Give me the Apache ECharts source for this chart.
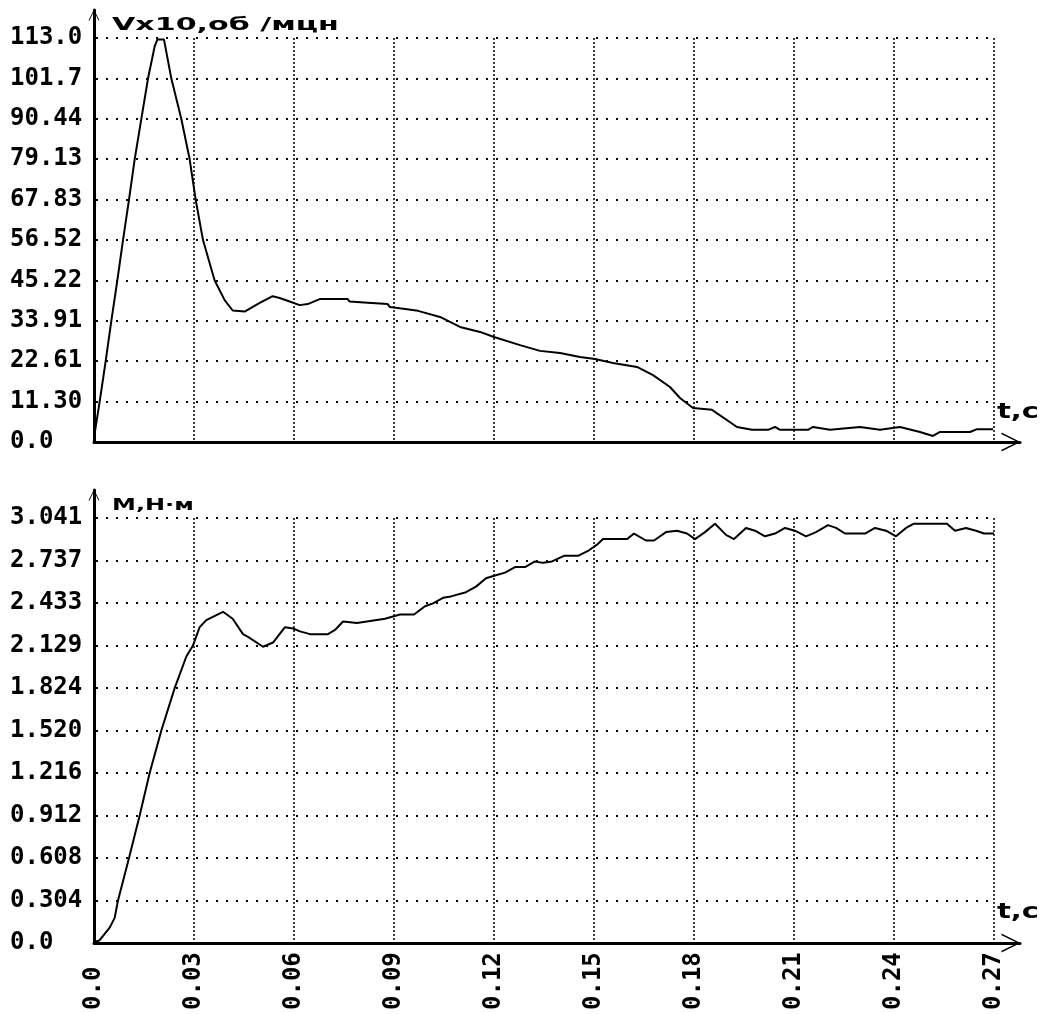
<!DOCTYPE html>
<html>
<head>
<meta charset="utf-8">
<script src="https://cdn.jsdelivr.net/npm/echarts@6/dist/echarts.min.js"></script>
<style>
  html, body { margin: 0; padding: 0; background: #fff; }
  #chart { width: 1042px; height: 1014px; }
</style>
</head>
<body>
<div id="chart"></div>
<script>
// Tick labels as printed on the axes
const timeTicks = ['0.0', '0.03', '0.06', '0.09', '0.12', '0.15', '0.18', '0.21', '0.24', '0.27'];
const speedTicks = ['0.0', '11.30', '22.61', '33.91', '45.22', '56.52', '67.83', '79.13', '90.44', '101.7', '113.0'];
const torqueTicks = ['0.0', '0.304', '0.608', '0.912', '1.216', '1.520', '1.824', '2.129', '2.433', '2.737', '3.041'];

const timeStep = 0.03;
const speedStep = 11.305;
const torqueStep = 0.3041;

// Speed V x10, rpm versus time t, s
const speedTime = [
  0.0003, 0.0017, 0.0035, 0.0052, 0.0070, 0.0087, 0.0105, 0.0122, 0.0142, 0.0162,
  0.0182, 0.0190, 0.0210, 0.0232, 0.0262, 0.0287, 0.0305, 0.0327, 0.0362, 0.0392,
  0.0416, 0.0452, 0.0497, 0.0536, 0.0557, 0.0587, 0.0617, 0.0641, 0.0677, 0.0761,
  0.0767, 0.0821, 0.0827, 0.0881, 0.0887, 0.0917, 0.0972, 0.1038, 0.1098, 0.1158,
  0.1200, 0.1278, 0.1338, 0.1398, 0.1458, 0.1503, 0.1557, 0.1629, 0.1677, 0.1728,
  0.1758, 0.1797, 0.1854, 0.1929, 0.1974, 0.2022, 0.2043, 0.2058, 0.2142, 0.2157,
  0.2208, 0.2298, 0.2358, 0.2418, 0.2478, 0.2517, 0.2538, 0.2628, 0.2649, 0.2697
];
const speedValues = [
  3, 11.3, 22.6, 33.9, 45.2, 56.5, 67.8, 79.1, 90.4, 101.7,
  110.7, 112.6, 112.6, 101.7, 90.4, 79.1, 67.8, 56.5, 45.2, 39.7,
  36.8, 36.5, 38.9, 40.8, 40.3, 39.3, 38.3, 38.6, 40, 40,
  39.3, 39, 38.6, 38.6, 37.8, 37.4, 36.7, 35, 32.2, 30.8,
  29.4, 27.1, 25.5, 24.9, 23.8, 23.2, 22.1, 21, 18.7, 15.4,
  12.3, 9.5, 9, 4.2, 3.4, 3.4, 4.2, 3.4, 3.4, 4.2,
  3.4, 4.2, 3.4, 4.2, 2.8, 1.7, 2.8, 2.8, 3.6, 3.6
];

// Torque M, N·m versus time t, s
const torqueTime = [
  0, 0.0017, 0.0047, 0.0062, 0.0072, 0.0105, 0.0137, 0.0167, 0.0202, 0.0242,
  0.0277, 0.0297, 0.0317, 0.0337, 0.0387, 0.0416, 0.0447, 0.0462, 0.0507, 0.0537,
  0.0573, 0.0597, 0.0618, 0.0648, 0.0702, 0.0723, 0.0747, 0.0789, 0.0873, 0.0918,
  0.0960, 0.0993, 0.1017, 0.1047, 0.1071, 0.1116, 0.1146, 0.1176, 0.1203, 0.1233,
  0.1263, 0.1293, 0.1323, 0.1347, 0.1374, 0.1410, 0.1452, 0.1485, 0.1509, 0.1527,
  0.1599, 0.1620, 0.1656, 0.1680, 0.1716, 0.1749, 0.1779, 0.1803, 0.1833, 0.1863,
  0.1896, 0.1920, 0.1956, 0.1983, 0.2013, 0.2043, 0.2073, 0.2103, 0.2136, 0.2166,
  0.2202, 0.2226, 0.2253, 0.2283, 0.2313, 0.2343, 0.2376, 0.2406, 0.2436, 0.2460,
  0.2559, 0.2583, 0.2616, 0.2646, 0.2670, 0.2700
];
const torqueValues = [
  0.005, 0.02, 0.11, 0.18, 0.304, 0.608, 0.912, 1.216, 1.52, 1.824,
  2.05, 2.129, 2.26, 2.31, 2.37, 2.32, 2.21, 2.19, 2.12, 2.15,
  2.26, 2.25, 2.23, 2.21, 2.21, 2.24, 2.30, 2.29, 2.32, 2.35,
  2.35, 2.41, 2.43, 2.47, 2.48, 2.51, 2.55, 2.61, 2.63, 2.65,
  2.69, 2.69, 2.73, 2.72, 2.73, 2.77, 2.77, 2.81, 2.85, 2.89,
  2.89, 2.93, 2.88, 2.88, 2.94, 2.95, 2.93, 2.89, 2.94, 3.00,
  2.92, 2.89, 2.97, 2.95, 2.91, 2.93, 2.97, 2.95, 2.91, 2.94,
  2.99, 2.97, 2.93, 2.93, 2.93, 2.97, 2.95, 2.91, 2.97, 3.00,
  3.00, 2.95, 2.97, 2.95, 2.93, 2.93
];

const zip = (xs, ys) => xs.map((x, i) => [x, ys[i]]);

const INK = '#000';
const labelFont = {
  fontFamily: 'DejaVu Sans Mono',
  fontWeight: 'bold',
  fontSize: 24,
  color: INK
};
// open chevron head for the axis ends (points up in its own frame)
const chevron = 'path://M0,100 L50,0 L100,100 L91,100 L50,16 L9,100 Z';

const hGrid = { show: true, showMinLine: false, lineStyle: { color: INK, width: 2, type: [2, 8], dashOffset: 8 } };
const vGrid = { show: true, showMinLine: false, lineStyle: { color: INK, width: 1.5, type: [2, 2] } };

function plotX(gridIndex, withLabels) {
  return {
    type: 'value', gridIndex, min: 0, max: 0.27, interval: timeStep,
    axisLine: { show: false }, axisTick: { show: false },
    splitLine: vGrid,
    axisLabel: withLabels ? Object.assign({
      rotate: 90, align: 'left', verticalAlign: 'middle', margin: 67,
      formatter: v => timeTicks[Math.round(v / timeStep)] || ''
    }, labelFont) : { show: false }
  };
}
function plotY(gridIndex, max, step, ticks) {
  return {
    type: 'value', gridIndex, min: 0, max, interval: step,
    axisLine: { show: false }, axisTick: { show: false },
    splitLine: hGrid,
    axisLabel: Object.assign({
      align: 'left', margin: 84,
      formatter: v => ticks[Math.round(v / step)] || ''
    }, labelFont)
  };
}
// frame axes: just the solid axis lines with arrow heads
function frameX(gridIndex) {
  return {
    type: 'value', gridIndex, min: 0, max: 1,
    axisLine: { show: true, lineStyle: { color: INK, width: 3 },
      symbol: ['none', chevron], symbolSize: [27, 19], symbolOffset: [0, -9] },
    axisTick: { show: false }, axisLabel: { show: false }, splitLine: { show: false }
  };
}
function frameY(gridIndex) {
  return {
    type: 'value', gridIndex, min: 0, max: 1,
    axisLine: { show: true, lineStyle: { color: INK, width: 3 },
      symbol: ['none', chevron], symbolSize: [20, 11], symbolOffset: [0, -5] },
    axisTick: { show: false }, axisLabel: { show: false }, splitLine: { show: false }
  };
}

const chart = echarts.init(document.getElementById('chart'), null, { renderer: 'canvas' });
chart.setOption({
  backgroundColor: '#fff',
  animation: false,
  grid: [
    { left: 94, top: 38, width: 900, height: 404, outerBoundsMode: 'none' },
    { left: 94, top: 10, width: 926, height: 432, outerBoundsMode: 'none' },
    { left: 94, top: 518, width: 900, height: 425, outerBoundsMode: 'none' },
    { left: 94, top: 490, width: 926, height: 453, outerBoundsMode: 'none' }
  ],
  xAxis: [plotX(0, false), frameX(1), plotX(2, true), frameX(3)],
  yAxis: [
    plotY(0, 113.05, speedStep, speedTicks), frameY(1),
    plotY(2, 3.041, torqueStep, torqueTicks), frameY(3)
  ],
  series: [
    {
      name: 'V', type: 'line', xAxisIndex: 0, yAxisIndex: 0,
      data: zip(speedTime, speedValues), showSymbol: false, z: 5,
      lineStyle: { color: INK, width: 2 }
    },
    {
      name: 'M', type: 'line', xAxisIndex: 2, yAxisIndex: 2,
      data: zip(torqueTime, torqueValues), showSymbol: false, z: 5,
      lineStyle: { color: INK, width: 2 }
    }
  ],
  graphic: [
    { type: 'text', x: 112, y: 26, scaleX: 1.77,
      style: { text: 'Vx10,об /мцн', fontFamily: 'DejaVu Sans', fontWeight: 'bold', fontSize: 17, fill: INK, verticalAlign: 'middle' } },
    { type: 'text', x: 112, y: 506, scaleX: 1.5,
      style: { text: 'М,Н·м', fontFamily: 'DejaVu Sans', fontWeight: 'bold', fontSize: 16, fill: INK, verticalAlign: 'middle' } },
    { type: 'text', x: 997, y: 413, scaleX: 1.38,
      style: { text: 't,c', fontFamily: 'DejaVu Sans', fontWeight: 'bold', fontSize: 21, fill: INK, verticalAlign: 'middle' } },
    { type: 'text', x: 997, y: 913, scaleX: 1.38,
      style: { text: 't,c', fontFamily: 'DejaVu Sans', fontWeight: 'bold', fontSize: 21, fill: INK, verticalAlign: 'middle' } }
  ]
});
</script>
</body>
</html>
